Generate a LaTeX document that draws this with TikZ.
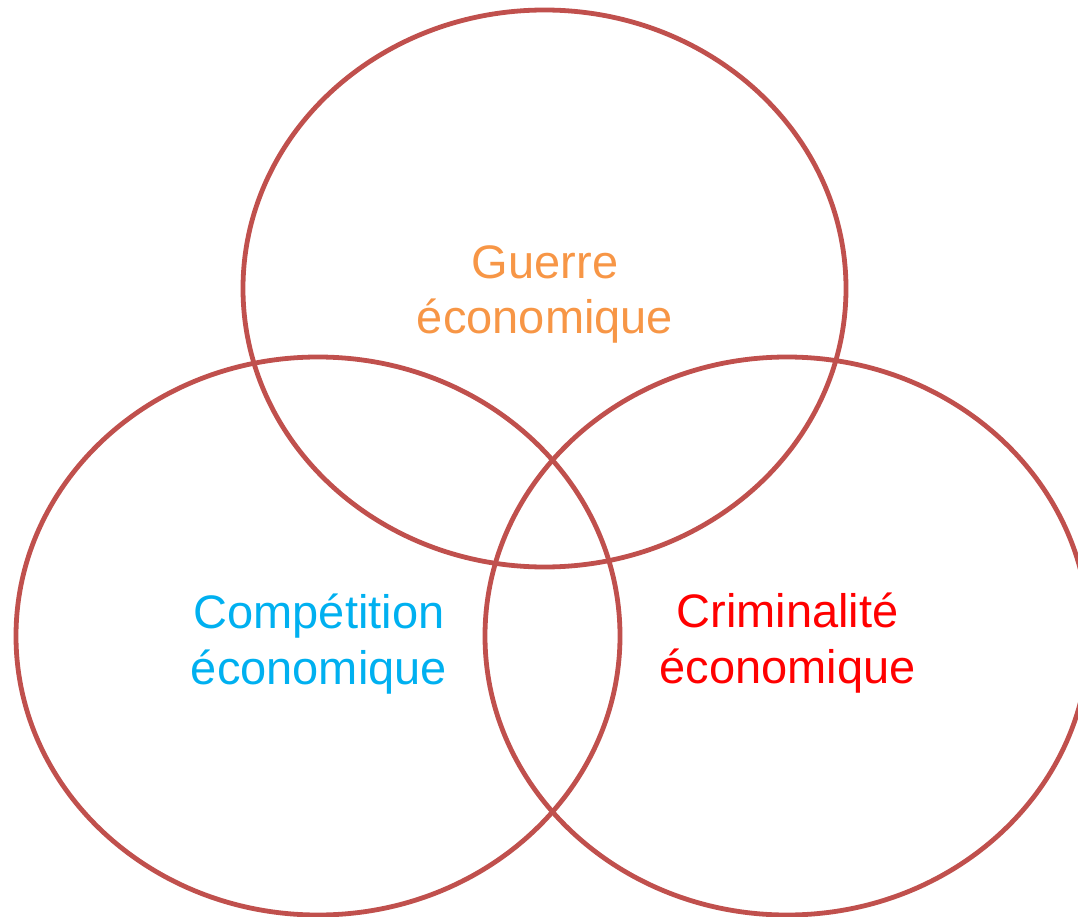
\documentclass[tikz,border=0pt]{standalone}
\usepackage{fontspec}
\setmainfont{Liberation Sans}
\definecolor{ringred}{HTML}{C0504D}
\definecolor{guerreorange}{HTML}{F79646}
\definecolor{compblue}{HTML}{00B0F0}
\definecolor{crimred}{HTML}{FF0000}
\tikzset{
  ring/.style={draw=ringred, line width=4.8pt},
  lbl/.style={anchor=base, inner sep=0pt, font=\fontsize{47}{56}\selectfont}
}
\begin{document}
\begin{tikzpicture}[x=1pt,y=-1pt]
\useasboundingbox (0,0) rectangle (1078,917);
\begin{scope}
\clip (0,0) rectangle (1078,917);
\draw[ring] (544.5,288.5) ellipse [x radius=301.5, y radius=278.5];
\draw[ring] (318,636) ellipse [x radius=302, y radius=279];
\draw[ring] (787,636) ellipse [x radius=302, y radius=279];
\end{scope}
\node[lbl, text=guerreorange] (g1) at (545,278) {Guerre};
\node[lbl, text=guerreorange] (g2) at (545,333) {économique};
\node[lbl, text=compblue] (c1) at (319,628) {Compétition};
\node[lbl, text=compblue] (c2) at (319,684) {économique};
\node[lbl, text=crimred] (r1) at (787.5,627) {Criminalité};
\node[lbl, text=crimred] (r2) at (787.5,683) {économique};
\end{tikzpicture}
\end{document}
